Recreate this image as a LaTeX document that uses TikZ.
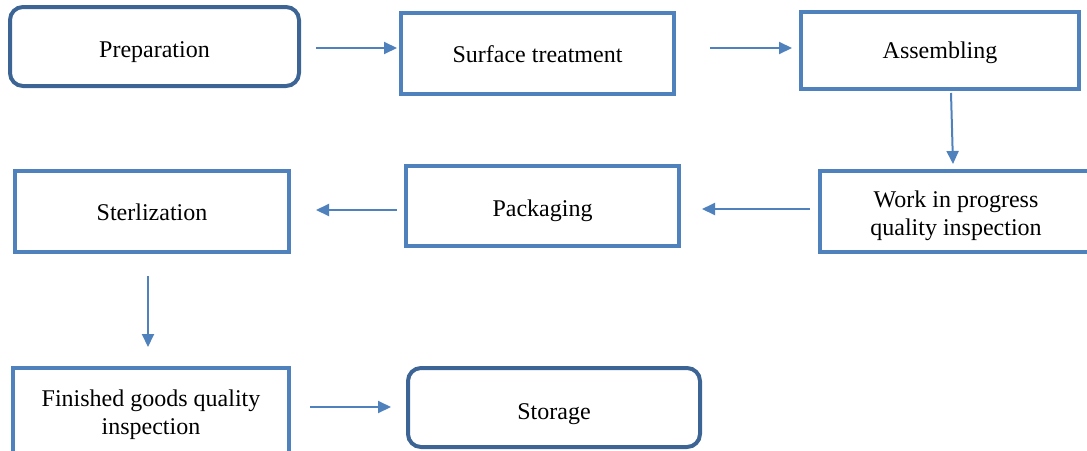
\documentclass[tikz,border=0pt]{standalone}
\usepackage{fontspec}
\setmainfont{Liberation Serif}
\usepackage{tikz}
\usetikzlibrary{calc,arrows.meta}
\definecolor{boxblue}{HTML}{4F81BD}
\definecolor{darkblue}{HTML}{3C6494}
\newcommand{\liftline}[1]{\rule{0pt}{#1}}

\begin{document}
\begin{tikzpicture}[x=1pt,y=-1pt]
\tikzstyle{every node}+=[inner sep=0pt,outer sep=0pt,align=center,font=\fontsize{24}{28}\selectfont]
\tikzstyle{stepbox}=[draw=boxblue,line width=4pt,rectangle]
\tikzstyle{endbox}=[draw=darkblue,line width=4pt,rectangle,rounded corners=13pt]
\tikzstyle{flow}=[draw=boxblue,line width=2pt,-{Triangle[length=13pt,width=12pt]}]
\useasboundingbox (0,0) rectangle (1087,450);

% first row
\node [endbox,minimum width=289pt,minimum height=79pt] (prep) at (154.5,46.5) {\liftline{26.4pt}Preparation};
\node [stepbox,minimum width=273pt,minimum height=81pt] (surf) at (537.5,53.5) {\liftline{18.4pt}Surface treatment};
\node [stepbox,minimum width=278pt,minimum height=77pt] (assem) at (940,50.5) {\liftline{20.4pt}Assembling};

% second row
\node [stepbox,minimum width=272pt,minimum height=81pt] (wip) at (956,211.5) {\liftline{25.4pt}Work in progress\\quality inspection};
\node [stepbox,minimum width=273pt,minimum height=80pt] (pack) at (542.5,206) {\liftline{26.4pt}Packaging};
\node [stepbox,minimum width=274pt,minimum height=81pt] (ster) at (152,211.5) {\liftline{18.4pt}Sterlization};

% third row
\node [stepbox,minimum width=276pt,minimum height=86pt] (fin) at (151,411) {\liftline{24.4pt}Finished goods quality\\inspection};
\node [endbox,minimum width=292pt,minimum height=79pt] (stor) at (554,407.5) {\liftline{28.4pt}Storage};

\draw [flow] ($(prep.east)+(17,1.5)$) -- ($(surf.west)+(-4,-5.5)$);
\draw [flow] ($(surf.east)+(36,-5.5)$) -- ($(assem.west)+(-9,-2.5)$);
\draw [flow] ($(assem.south)+(11,4)$) -- ($(wip.north)+(-3,-7)$);
\draw [flow] ($(wip.west)+(-10,-2.5)$) -- ($(pack.east)+(23,3)$);
\draw [flow] ($(pack.west)+(-9,4)$) -- ($(ster.east)+(27,-1.5)$);
\draw [flow] ($(ster.south)+(-4,24)$) -- ($(fin.north)+(-3,-21)$);
\draw [flow] ($(fin.east)+(21,-4)$) -- ($(stor.west)+(-17,-0.5)$);
\end{tikzpicture}
\end{document}
